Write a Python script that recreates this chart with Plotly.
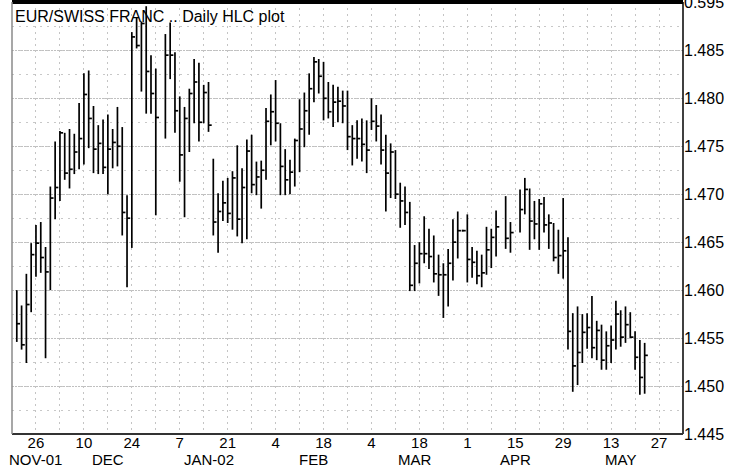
import pandas as pd
import plotly.graph_objects as go
from datetime import timedelta

# ---------------- data ----------------
missing_days = ["2002-01-01", "2002-04-10", "2002-04-15"]
trade_dates = [d for d in pd.bdate_range("2001-11-20", "2002-05-22")
               if d.strftime("%Y-%m-%d") not in missing_days]

high = [1.4600, 1.4584, 1.4617, 1.4649, 1.4668, 1.4671, 1.4645, 1.4708, 1.4755,
        1.4766, 1.4764, 1.4768, 1.4763, 1.4795, 1.4826, 1.4829, 1.4792, 1.4772,
        1.4778, 1.4783, 1.4768, 1.4791, 1.4770, 1.4699, 1.4869, 1.4884, 1.4880,
        1.4896, 1.4845, 1.4831,
        1.4867, 1.4879, 1.4848, 1.4802, 1.4791, 1.4810, 1.4841, 1.4837, 1.4814,
        1.4817, 1.4737, 1.4701, 1.4714, 1.4717, 1.4724, 1.4751, 1.4727, 1.4757,
        1.4762, 1.4734, 1.4735, 1.4790, 1.4804, 1.4819, 1.4774, 1.4747, 1.4736,
        1.4758, 1.4799, 1.4806, 1.4826, 1.4843, 1.4841, 1.4838, 1.4817, 1.4814,
        1.4812, 1.4808, 1.4808, 1.4772, 1.4777, 1.4779, 1.4777, 1.4800, 1.4793,
        1.4783, 1.4762, 1.4753, 1.4746, 1.4712, 1.4708, 1.4692, 1.4647, 1.4650,
        1.4677, 1.4664, 1.4657, 1.4637, 1.4628, 1.4643, 1.4674, 1.4682, 1.4663,
        1.4679, 1.4645, 1.4641, 1.4637, 1.4666, 1.4664, 1.4683,
        1.4698, 1.4671,
        1.4705, 1.4717, 1.4706, 1.4693, 1.4695, 1.4697, 1.4679, 1.4670, 1.4663,
        1.4696, 1.4655, 1.4576, 1.4583, 1.4575, 1.4576, 1.4594, 1.4568, 1.4564,
        1.4557, 1.4563, 1.4589, 1.4579, 1.4583, 1.4577, 1.4557, 1.4548, 1.4545]

low = [1.4546, 1.4538, 1.4524, 1.4577, 1.4614, 1.4618, 1.4529, 1.4600, 1.4674,
       1.4693, 1.4715, 1.4706, 1.4721, 1.4726, 1.4731, 1.4748, 1.4722, 1.4721,
       1.4721, 1.4700, 1.4727, 1.4729, 1.4657, 1.4603, 1.4644, 1.4852, 1.4807,
       1.4784, 1.4784, 1.4678,
       1.4758, 1.4820, 1.4764, 1.4713, 1.4676, 1.4744, 1.4774, 1.4755, 1.4774,
       1.4765, 1.4657, 1.4639, 1.4672, 1.4670, 1.4663, 1.4656, 1.4649, 1.4653,
       1.4701, 1.4699, 1.4685, 1.4715, 1.4751, 1.4755, 1.4699, 1.4699, 1.4700,
       1.4708, 1.4723, 1.4749, 1.4762, 1.4796, 1.4805, 1.4777, 1.4779, 1.4770,
       1.4775, 1.4774, 1.4746, 1.4730, 1.4737, 1.4734, 1.4722, 1.4767, 1.4755,
       1.4731, 1.4682, 1.4696, 1.4695, 1.4665, 1.4668, 1.4599, 1.4599, 1.4607,
       1.4628, 1.4622, 1.4608, 1.4594, 1.4571, 1.4583, 1.4610, 1.4633, 1.4661,
       1.4608, 1.4613, 1.4606, 1.4603, 1.4616, 1.4623, 1.4635,
       1.4643, 1.4639,
       1.4660, 1.4679, 1.4642, 1.4653, 1.4642, 1.4660, 1.4643, 1.4630, 1.4617,
       1.4612, 1.4538, 1.4494, 1.4501, 1.4524, 1.4539, 1.4529, 1.4527, 1.4517,
       1.4517, 1.4524, 1.4538, 1.4541, 1.4545, 1.4550, 1.4517, 1.4491, 1.4492]

close = [1.4565, 1.4543, 1.4585, 1.4637, 1.4649, 1.4634, 1.4619, 1.4696, 1.4707,
         1.4764, 1.4722, 1.4726, 1.4744, 1.4758, 1.4804, 1.4779, 1.4747, 1.4753,
         1.4728, 1.4747, 1.4754, 1.4750, 1.4681, 1.4675, 1.4864, 1.4855, 1.4878,
         1.4828, 1.4805, 1.4780,
         1.4845, 1.4845, 1.4787, 1.4741, 1.4779, 1.4805, 1.4817, 1.4775, 1.4806,
         1.4772, 1.4671, 1.4682, 1.4691, 1.4680, 1.4717, 1.4674, 1.4707, 1.4745,
         1.4710, 1.4718, 1.4725, 1.4776, 1.4786, 1.4774, 1.4729, 1.4715, 1.4723,
         1.4756, 1.4768, 1.4787, 1.4810, 1.4838, 1.4823, 1.4800, 1.4786, 1.4796,
         1.4797, 1.4792, 1.4760, 1.4758, 1.4758, 1.4752, 1.4746, 1.4776, 1.4771,
         1.4746, 1.4722, 1.4744, 1.4700, 1.4693, 1.4681, 1.4605, 1.4628, 1.4638,
         1.4638, 1.4635, 1.4617, 1.4616, 1.4616, 1.4628, 1.4650, 1.4662, 1.4662,
         1.4632, 1.4629, 1.4615, 1.4618, 1.4642, 1.4655, 1.4666,
         1.4654, 1.4660,
         1.4684, 1.4705, 1.4672, 1.4669, 1.4690, 1.4668, 1.4670, 1.4634, 1.4636,
         1.4641, 1.4557, 1.4521, 1.4535, 1.4556, 1.4561, 1.4540, 1.4558, 1.4527,
         1.4542, 1.4548, 1.4575, 1.4551, 1.4564, 1.4551, 1.4530, 1.4509, 1.4532]

tick_dates = ["2001-11-26", "2001-12-10", "2001-12-24", "2002-01-07", "2002-01-21",
              "2002-02-04", "2002-02-18", "2002-03-04", "2002-03-18", "2002-04-01",
              "2002-04-15", "2002-04-29", "2002-05-13", "2002-05-27"]
tick_text = ["26", "10", "24", "7", "21", "4", "18", "4", "18", "1", "15", "29", "13", "27"]

month_labels = ["NOV-01", "DEC", "JAN-02", "FEB", "MAR", "APR", "MAY"]
month_label_dates = ["2001-11-26", "2001-12-17", "2002-01-15", "2002-02-14",
                     "2002-03-15", "2002-04-15", "2002-05-15"]

y_ticks = [1.445, 1.450, 1.455, 1.460, 1.465, 1.470, 1.475, 1.480, 1.485, 1.490]
y_tick_text = ["1.445", "1.450", "1.455", "1.460", "1.465", "1.470", "1.475",
               "1.480", "1.485", "0.595"]

title_text = "EUR/SWISS FRANC .. Daily HLC plot"

# ---------------- build HLC segments ----------------
tick_len = timedelta(hours=16)
xs, ys = [], []
for d, h, l, c in zip(trade_dates, high, low, close):
    xs += [d, d, None, d, d + tick_len, None]
    ys += [l, h, None, c, c, None]

fig = go.Figure()
fig.add_trace(go.Scatter(x=xs, y=ys, mode="lines",
                         line=dict(color="black", width=1.7),
                         connectgaps=False, hoverinfo="skip"))

weekly = pd.date_range("2001-11-19", "2002-06-03", freq="W-MON")

fig.update_layout(
    width=730, height=467,
    margin=dict(l=12, r=47, t=2, b=33, autoexpand=False),
    paper_bgcolor="white", plot_bgcolor="white",
    showlegend=False,
    font=dict(family="Liberation Sans, Arial, sans-serif", size=16, color="black"),
)

fig.update_xaxes(
    type="date",
    range=["2001-11-19", "2002-06-03"],
    rangebreaks=[dict(bounds=["sat", "mon"])],
    tickmode="array", tickvals=tick_dates, ticktext=tick_text,
    showgrid=True, gridcolor="#c4c4c4", griddash="2px,4px", gridwidth=1,
    minor=dict(tickvals=list(weekly), showgrid=True, gridcolor="#c4c4c4",
               griddash="2px,4px", gridwidth=1),
    ticks="", showline=False, zeroline=False, automargin=False,
    ticklabelstandoff=-2,
    tickfont=dict(size=15),
)

fig.update_yaxes(
    side="right",
    range=[1.445, 1.49004],
    tickmode="array", tickvals=y_ticks, ticktext=y_tick_text,
    showgrid=True, gridcolor="#c0c0c0", griddash="2px,1px", gridwidth=1,
    minor=dict(dtick=0.0025, tick0=1.445, showgrid=True, gridcolor="#c8c8c8",
               griddash="2px,5px", gridwidth=1),
    ticks="", showline=False, zeroline=False, automargin=False,
    ticklabelstandoff=0, ticklabeloverflow="allow",
    tickfont=dict(size=16),
)

# frame
fig.add_shape(type="line", xref="paper", yref="paper", x0=0, x1=1, y0=1, y1=1,
              line=dict(color="black", width=4), layer="above")
fig.add_shape(type="line", xref="paper", yref="paper", x0=1, x1=1, y0=0, y1=1,
              line=dict(color="black", width=1.5))
fig.add_shape(type="line", xref="paper", yref="paper", x0=0, x1=1, y0=0, y1=0,
              line=dict(color="#333333", width=2))
fig.add_shape(type="line", xref="paper", yref="paper", x0=0, x1=0, y0=0, y1=1,
              line=dict(color="#8a8a8a", width=1.5))

for lab, d in zip(month_labels, month_label_dates):
    fig.add_annotation(x=d, xref="x", y=-0.058, yref="paper", text=lab,
                       showarrow=False, yanchor="middle", xanchor="center",
                       font=dict(size=15, color="black"))

fig.add_annotation(x=0, xref="paper", y=1, yref="paper", text=title_text,
                   showarrow=False, xanchor="left", yanchor="top",
                   xshift=1, yshift=-4, font=dict(size=16, color="black"))

fig.write_html("out.html",
               config={"displayModeBar": False},
               post_script="document.body.style.margin='0';"
                           "document.body.style.overflow='hidden';")
